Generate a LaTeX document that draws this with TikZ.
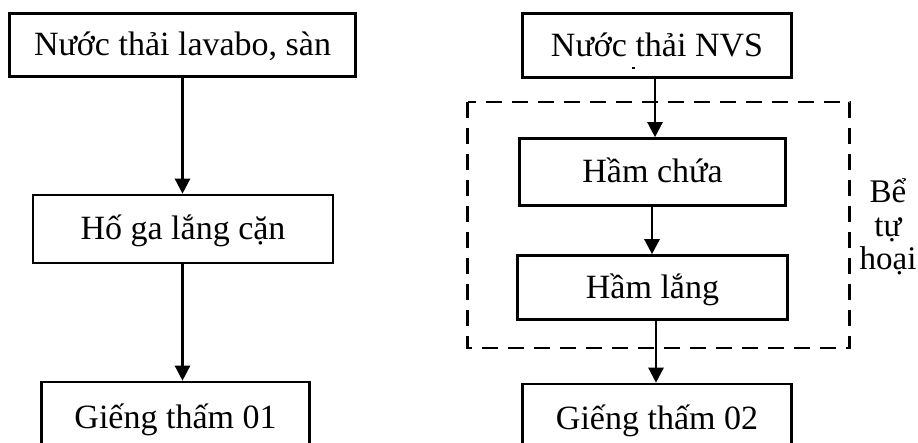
\documentclass[tikz,border=0pt]{standalone}
\usepackage{fontspec}
\setmainfont{Liberation Serif}
\usetikzlibrary{arrows.meta}
\tikzset{
  box/.style={draw, line width=2.6pt, inner sep=0pt, text height=26pt, text depth=4pt,
    font=\fontsize{34}{34}\selectfont},
  arr/.style={line width=2.4pt, -{Triangle[width=15pt,length=15pt]}},
  grp/.style={draw, line width=2.6pt, dash pattern=on 16pt off 10pt},
  lbl/.style={align=center, inner sep=0pt, font=\fontsize{33}{33.5}\selectfont}
}
\begin{document}
\begin{tikzpicture}[x=1pt,y=-1pt]
\useasboundingbox (0,0) rectangle (918,443);
\clip (0,0) rectangle (918,443);
% left column
\node[box, minimum width=346pt, minimum height=63pt] (lt) at (182.5,45) {Nước thải lavabo, sàn};
\node[box, minimum width=300pt, minimum height=68pt] (hg) at (183,229) {Hố ga lắng cặn};
\node[box, minimum width=268pt, minimum height=70pt] (g1) at (175.5,417) {Giếng thấm 01};
% right column
\node[box, minimum width=269pt, minimum height=64pt] (nvs) at (657,45.5) {Nước thải NVS};
\node[box, minimum width=266pt, minimum height=67pt] (hc) at (652.5,172) {Hầm chứa};
\node[box, minimum width=270pt, minimum height=64pt] (hl) at (652.5,287.5) {Hầm lắng};
\node[box, minimum width=269pt, minimum height=68pt] (g2) at (657,418) {Giếng thấm 02};
% small mark under NVS
\fill (631.5,67) rectangle (634.5,69);
% group
\draw[grp] (467.5,102) rectangle (849.5,348);
\node[lbl, anchor=base] (bth) at (888,270) {Bể\\tự\\hoại};
% coordinates for arrow columns
\coordinate (xa) at (655,0);
\coordinate (xb) at (652,0);
\coordinate (xc) at (656,0);
% arrows left
\draw[arr] (lt.south) -- (lt.south |- hg.north);
\draw[arr] (hg.south -| lt.south) -- (lt.south |- g1.north);
% arrows right
\draw[arr] (nvs.south -| xa) -- (hc.north -| xa);
\draw[arr] (hc.south -| xb) -- (hl.north -| xb);
\draw[arr] (hl.south -| xc) -- (g2.north -| xc);
\end{tikzpicture}
\end{document}
